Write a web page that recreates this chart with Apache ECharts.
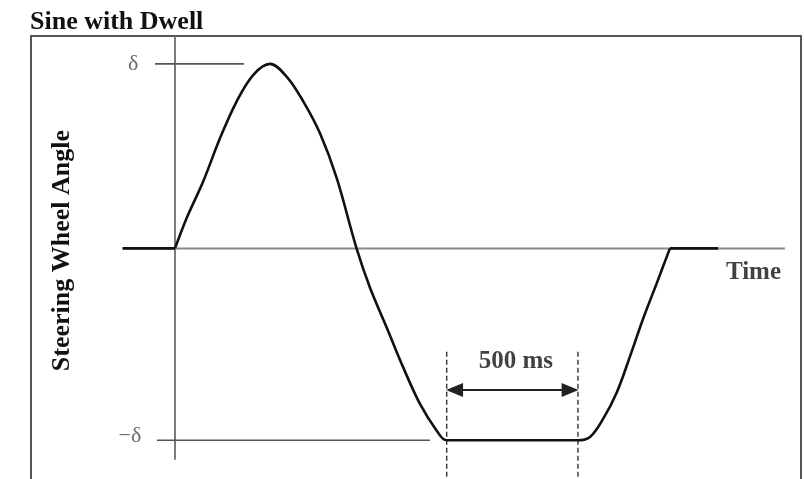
<!DOCTYPE html>
<html>
<head>
<meta charset="utf-8">
<script src="https://cdn.jsdelivr.net/npm/echarts@6/dist/echarts.min.js"></script>
<style>html,body{margin:0;padding:0;background:#fff;}#c{width:805px;height:479px;}</style>
</head>
<body>
<div id="c"></div>
<script>
// Time in ms, steering angle in units of delta
const leadTime = [-200, 0];
const leadAngle = [0, 0];
const curveTime = [0, 45, 108, 172, 235, 299, 363, 426, 490, 553, 617, 693, 744, 808, 871, 935, 999, 1037, 1538, 1584, 1634, 1687, 1737, 1786, 1840, 1889];
const curveAngle = [0, 0.166, 0.364, 0.598, 0.796, 0.941, 1.0, 0.931, 0.796, 0.625, 0.382, 0, -0.212, -0.429, -0.645, -0.843, -0.988, -1.04, -1.04, -1.022, -0.924, -0.778, -0.584, -0.384, -0.184, 0];
const tailTime = [1889, 2073];
const tailAngle = [0, 0];
const timeAxisRange = [-200, 2328];      // horizontal zero line
const angleAxisRange = [1.15, -1.146];   // vertical axis line
const deltaPos = 1.0, deltaNeg = -1.04;
const deltaPosLine = [-76, 263];
const deltaNegLine = [-69, 973];
const dwellStart = 1037, dwellEnd = 1538;
const arrowInset = 30;
const dashedRange = [-0.56, -1.25];
const arrowLevel = -0.768;
const labelPoints = [
  { name: 'δ', t: -160, v: 1.0, bold: false },
  { name: '−δ', t: -172, v: -1.02, bold: false },
  { name: 'Time', t: 2208, v: -0.13, bold: true },
  { name: '500 ms', t: 1301, v: -0.611, bold: true }
];

const serif = "'Liberation Serif', 'Times New Roman', serif";
const chart = echarts.init(document.getElementById('c'), null, { renderer: 'canvas' });

const pairs = (ts, vs) => ts.map((t, i) => [t, vs[i]]);

function seg(data, color, width, type, extra) {
  return Object.assign({
    type: 'line', data: data, symbol: 'none', silent: true, animation: false,
    lineStyle: { color: color, width: width, type: type || 'solid' }
  }, extra || {});
}

chart.setOption({
  animation: false,
  backgroundColor: '#fff',
  title: {
    text: 'Sine with Dwell', left: 25, top: 4,
    textStyle: { fontFamily: serif, fontWeight: 'bold', fontSize: 26, color: '#111' }
  },
  graphic: [{
    type: 'rect', shape: { x: 31, y: 36, width: 770, height: 470 },
    style: { fill: 'none', stroke: '#555', lineWidth: 2 }, silent: true, z: 0
  }],
  grid: { left: 122.6, top: 36.25, width: 681.2, height: 444 },
  xAxis: { type: 'value', min: -200, max: 2400, show: false, splitLine: { show: false } },
  yAxis: {
    type: 'value', min: -1.25, max: 1.15,
    axisLine: { show: false, onZero: false }, axisTick: { show: false }, axisLabel: { show: false }, splitLine: { show: false },
    name: 'Steering Wheel Angle', nameLocation: 'middle', nameRotate: 90, nameGap: 47,
    nameTextStyle: { fontFamily: serif, fontWeight: 'bold', fontSize: 26, color: '#111', padding: [0, 0, 0, 14] }
  },
  series: [
    seg([[timeAxisRange[0], 0], [timeAxisRange[1], 0]], '#8a8a8a', 2),
    seg([[0, angleAxisRange[0]], [0, angleAxisRange[1]]], '#7a7a7a', 2),
    seg([[deltaPosLine[0], deltaPos], [deltaPosLine[1], deltaPos]], '#555', 1.6),
    seg([[deltaNegLine[0], deltaNeg], [deltaNegLine[1], deltaNeg]], '#555', 1.6),
    seg([[dwellStart, dashedRange[0]], [dwellStart, dashedRange[1]]], '#333', 1.4, [5, 3], {
      markLine: {
        silent: true, animation: false,
        symbol: ['triangle', 'triangle'], symbolSize: [14, 17],
        lineStyle: { color: '#222', width: 2, type: 'solid' },
        itemStyle: { color: '#111' },
        label: { show: false },
        data: [[{ coord: [dwellStart + arrowInset, arrowLevel] }, { coord: [dwellEnd - arrowInset, arrowLevel] }]]
      }
    }),
    seg([[dwellEnd, dashedRange[0]], [dwellEnd, dashedRange[1]]], '#333', 1.4, [5, 3]),
    seg(pairs(leadTime, leadAngle), '#111', 2.6, 'solid', { z: 5 }),
    seg(pairs(curveTime, curveAngle), '#111', 2.6, 'solid', { smooth: 0.35, smoothConstraint: true, z: 5 }),
    seg(pairs(tailTime, tailAngle), '#111', 2.6, 'solid', { z: 5 }),
    {
      type: 'scatter', silent: true, animation: false, symbolSize: 1,
      itemStyle: { color: 'rgba(0,0,0,0)' },
      data: labelPoints.map(p => ({
        value: [p.t, p.v], name: p.name,
        label: p.bold ? { fontWeight: 'bold', fontSize: 25, color: '#111' } : { fontWeight: 'normal', fontSize: 22, color: '#444' }
      })),
      label: { show: true, position: 'inside', formatter: p => p.name, fontFamily: serif }
    }
  ]
});
</script>
</body>
</html>
